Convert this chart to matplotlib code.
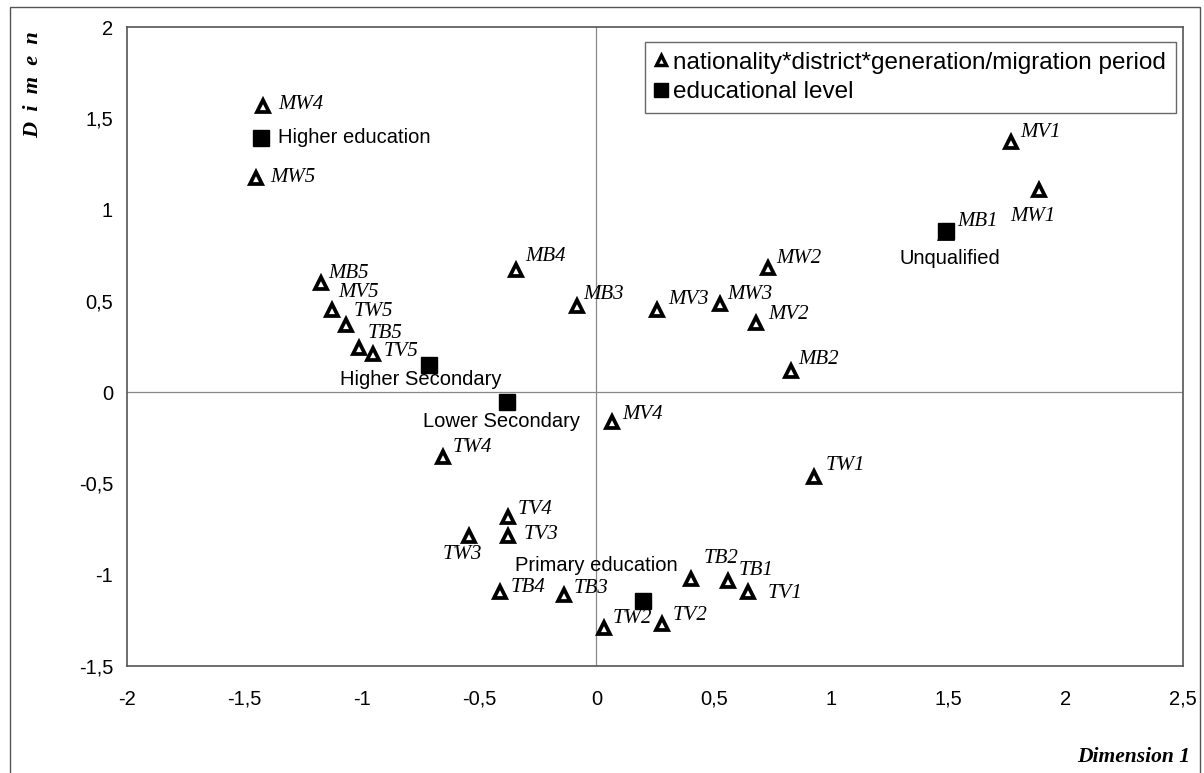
import matplotlib
matplotlib.use("Agg")
import matplotlib.pyplot as plt
from matplotlib.lines import Line2D
from matplotlib.patches import Rectangle

# ---- data ----
tri_labels = ["MW4", "MW5", "MB5", "MV5", "TW5", "TB5", "TV5", "MB4", "MB3", "MV3",
              "MW3", "MV2", "MW2", "MB2", "MV1", "MW1", "MB1", "MV4", "TW4", "TW1",
              "TV4", "TV3", "TW3", "TB2", "TB1", "TV1", "TB4", "TB3", "TW2", "TV2"]
tri_x = [-1.419, -1.449, -1.172, -1.125, -1.065, -1.010, -0.950, -0.341, -0.081, 0.260,
         0.528, 0.682, 0.733, 0.831, 1.768, 1.888, 1.491, 0.068, -0.652, 0.929,
         -0.375, -0.375, -0.541, 0.405, 0.562, 0.648, -0.409, -0.136, 0.034, 0.281]
tri_y = [1.566, 1.172, 0.597, 0.449, 0.367, 0.241, 0.208, 0.668, 0.471, 0.449,
         0.482, 0.378, 0.679, 0.115, 1.369, 1.106, 0.872, -0.164, -0.356, -0.465,
         -0.685, -0.789, -0.789, -1.024, -1.035, -1.095, -1.095, -1.112, -1.292, -1.271]

edu_labels = ["Higher education", "Unqualified", "Higher Secondary", "Lower Secondary", "Primary education"]
edu_x = [-1.427, 1.491, -0.712, -0.379, 0.200]
edu_y = [1.391, 0.882, 0.148, -0.055, -1.145]

xticks = [-2, -1.5, -1, -0.5, 0, 0.5, 1, 1.5, 2, 2.5]
xtick_labels = ["-2", "-1,5", "-1", "-0,5", "0", "0,5", "1", "1,5", "2", "2,5"]
yticks = [-1.5, -1, -0.5, 0, 0.5, 1, 1.5, 2]
ytick_labels = ["-1,5", "-1", "-0,5", "0", "0,5", "1", "1,5", "2"]

legend_labels = ["nationality*district*generation/migration period", "educational level"]

# ---- label offsets (pixels: dx, dy-up, ha) ----
tri_off = {
    "MW4": (15, 2, "left"), "MW5": (14, 1, "left"), "MB5": (7, 10, "left"),
    "MV5": (6, 18, "left"), "TW5": (7, 14, "left"), "TB5": (8, 15, "left"),
    "TV5": (10, 3, "left"), "MB4": (9, 14, "left"), "MB3": (6, 12, "left"),
    "MV3": (11, 11, "left"), "MW3": (7, 10, "left"), "MV2": (12, 9, "left"),
    "MW2": (8, 10, "left"), "MB2": (7, 12, "left"), "MV1": (9, 10, "left"),
    "MW1": (-7, -26, "center"), "MB1": (11, 11, "left"), "MV4": (10, 8, "left"),
    "TW4": (9, 10, "left"), "TW1": (11, 12, "left"), "TV4": (9, 8, "left"),
    "TV3": (15, 2, "left"), "TW3": (-7, -18, "center"), "TB2": (12, 21, "left"),
    "TB1": (10, 11, "left"), "TV1": (19, -1, "left"), "TB4": (10, 5, "left"),
    "TB3": (9, 7, "left"), "TW2": (8, 10, "left"), "TV2": (10, 9, "left"),
}
edu_off = {
    "Higher education": (17, 1, "left"), "Unqualified": (4, -27, "center"),
    "Higher Secondary": (-9, -14, "center"), "Lower Secondary": (-6, -19, "center"),
    "Primary education": (-47, 36, "center"),
}

SERIF = "Liberation Serif"
SANS = "Liberation Sans"

fig = plt.figure(figsize=(12.04, 7.73), dpi=100)
W, H = 1204, 773
ax = fig.add_axes([127 / W, 1 - 666 / H, (1183 - 127) / W, (666 - 27) / H])

ax.set_xlim(-2, 2.5)
ax.set_ylim(-1.5, 2)

for s in ax.spines.values():
    s.set_color("#555555")
    s.set_linewidth(1.2)

ax.axhline(0, color="#888888", lw=0.9, zorder=1)
ax.axvline(0, color="#888888", lw=0.9, zorder=1)

ax.set_xticks(xticks)
ax.set_xticklabels(xtick_labels, fontfamily=SANS, fontsize=14.5)
ax.set_yticks(yticks)
ax.set_yticklabels(ytick_labels, fontfamily=SANS, fontsize=14.5)
ax.tick_params(axis="x", length=0, pad=17)
ax.tick_params(axis="y", length=0, pad=10)

tri_style = dict(marker="^", linestyle="none", markersize=8.5, markerfacecolor="white",
                 markeredgecolor="black", markeredgewidth=2.7)
sq_style = dict(marker="s", linestyle="none", markersize=11, markerfacecolor="black",
                markeredgecolor="black")

ax.plot(tri_x, tri_y, zorder=3, **tri_style)
ax.plot(edu_x, edu_y, zorder=4, **sq_style)

for lab, x, y in zip(tri_labels, tri_x, tri_y):
    dx, dy, ha = tri_off[lab]
    ax.annotate(lab, (x, y), xytext=(dx, dy), textcoords="offset pixels",
                ha=ha, va="center", fontfamily=SERIF, fontstyle="italic", fontsize=15)

for lab, x, y in zip(edu_labels, edu_x, edu_y):
    dx, dy, ha = edu_off[lab]
    ax.annotate(lab, (x, y), xytext=(dx, dy), textcoords="offset pixels",
                ha=ha, va="center", fontfamily=SANS, fontsize=14.5)

leg_tri = dict(tri_style, markersize=7.5, markeredgewidth=2.5)
leg_sq = dict(sq_style, markersize=10)
handles = [Line2D([], [], **leg_tri), Line2D([], [], **leg_sq)]
leg = ax.legend(handles, legend_labels, loc="upper right", bbox_to_anchor=(0.993, 0.9765),
                borderaxespad=0, frameon=True, fancybox=False, shadow=False,
                handlelength=0.5, handletextpad=0.25, labelspacing=0.3,
                borderpad=0.4, prop={"family": SANS, "size": 17.5})
leg.get_frame().set_edgecolor("#444444")
leg.get_frame().set_linewidth(1.0)

# axis titles
fig.text(1190 / W, 1 - 757 / H, "Dimension 1", ha="right", va="center",
         fontfamily=SERIF, fontstyle="italic", fontweight="bold", fontsize=15.5)
fig.text(33 / W, 1 - 85 / H, "D  i  m  e  n", ha="center", va="center", rotation=90,
         fontfamily=SERIF, fontstyle="italic", fontweight="bold", fontsize=16)

# outer frame
fig.patches.append(Rectangle((10 / W, -0.05), (1200 - 10) / W, 1.05 - 7 / H,
                             transform=fig.transFigure, fill=False, lw=1.0,
                             ec="#555555"))

fig.savefig("out.png", dpi=100)
